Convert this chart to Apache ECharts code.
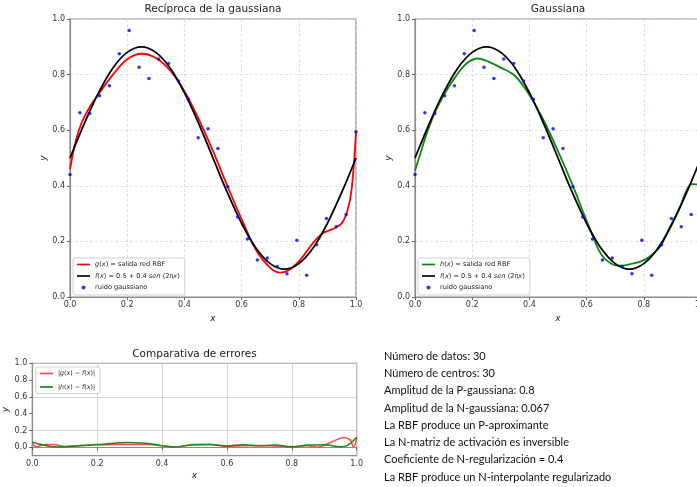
<!DOCTYPE html>
<html>
<head>
<meta charset="utf-8">
<script src="https://cdn.jsdelivr.net/npm/echarts@6/dist/echarts.min.js"></script>
<style>
html,body{margin:0;padding:0;background:#fff}
#main{width:697px;height:487px}
</style>
</head>
<body>
<div id="main"></div>
<script>
// puntos de ruido (iguales en las dos graficas de arriba)
var noiseX = [0, 0.0345, 0.069, 0.1034, 0.1379, 0.1724, 0.2069, 0.2414, 0.2759, 0.3103, 0.3448, 0.3793, 0.4138, 0.4483, 0.4828,
              0.5172, 0.5517, 0.5862, 0.6207, 0.6552, 0.6897, 0.7241, 0.7586, 0.7931, 0.8276, 0.8621, 0.8966, 0.931, 0.9655, 1.0];
var noiseY = [0.441, 0.663, 0.660, 0.724, 0.760, 0.875, 0.959, 0.826, 0.786, 0.856, 0.840, 0.777, 0.711, 0.573, 0.605,
              0.534, 0.397, 0.288, 0.209, 0.133, 0.140, 0.110, 0.084, 0.204, 0.078, 0.188, 0.282, 0.253, 0.297, 0.594];

// f(x) = 0.5 + 0.4 sen(2 pi x)
var fX = [0, 0.05, 0.1, 0.15, 0.2, 0.25, 0.3, 0.35, 0.4, 0.45, 0.5, 0.55, 0.6, 0.65, 0.7, 0.75, 0.8, 0.85, 0.9, 0.95, 1.0];
var fY = [0.5, 0.624, 0.735, 0.824, 0.880, 0.9, 0.880, 0.824, 0.735, 0.624, 0.5, 0.376, 0.265, 0.176, 0.120, 0.1, 0.120, 0.176, 0.265, 0.376, 0.5];

// g(x) salida RBF (reciproca)
var gX = [0, 0.02, 0.04, 0.07, 0.1, 0.15, 0.2, 0.25, 0.3, 0.35, 0.4, 0.45, 0.5, 0.55, 0.6, 0.65, 0.7, 0.735, 0.77, 0.81, 0.85, 0.885, 0.92, 0.95, 0.97, 0.985, 1.0];
var gY = [0.46, 0.56, 0.625, 0.685, 0.73, 0.80, 0.855, 0.875, 0.86, 0.815, 0.74, 0.64, 0.525, 0.40, 0.28, 0.17, 0.105, 0.088, 0.10, 0.14, 0.195, 0.23, 0.245, 0.265, 0.31, 0.39, 0.595];

// h(x) salida RBF (gaussiana)
var hX = [0, 0.02, 0.04, 0.07, 0.1, 0.14, 0.18, 0.22, 0.26, 0.3, 0.35, 0.4, 0.45, 0.5, 0.55, 0.6, 0.65, 0.69, 0.72, 0.76, 0.79, 0.82, 0.857, 0.892, 0.927, 0.95, 0.967, 0.985, 1.0];
var hY = [0.455, 0.52, 0.585, 0.665, 0.725, 0.79, 0.84, 0.858, 0.845, 0.825, 0.795, 0.727, 0.635, 0.525, 0.405, 0.275, 0.155, 0.118, 0.113, 0.12, 0.128, 0.145, 0.181, 0.253, 0.325, 0.385, 0.406, 0.405, 0.395];

// errores |g-f| y |h-f|
var egX = [0, 0.012, 0.04, 0.065, 0.1, 0.15, 0.2, 0.25, 0.3, 0.35, 0.4, 0.44, 0.5, 0.55, 0.6, 0.65, 0.7, 0.75, 0.8, 0.85, 0.88, 0.9, 0.93, 0.96, 0.98, 0.99, 1.0];
var egY = [0.056, 0.006, 0.034, 0.034, 0.01, 0.02, 0.03, 0.032, 0.034, 0.032, 0.018, 0.002, 0.034, 0.034, 0.01, 0.018, 0.022, 0.016, 0.01, 0.018, 0.002, 0.024, 0.076, 0.118, 0.088, 0.004, 0.112];
var ehX = [0, 0.02, 0.05, 0.08, 0.1, 0.15, 0.2, 0.25, 0.29, 0.35, 0.4, 0.44, 0.5, 0.55, 0.6, 0.65, 0.7, 0.75, 0.8, 0.85, 0.9, 0.95, 0.97, 1.0];
var ehY = [0.062, 0.04, 0.016, 0.005, 0.006, 0.02, 0.032, 0.048, 0.058, 0.048, 0.02, 0.004, 0.03, 0.032, 0.016, 0.03, 0.018, 0.026, 0.005, 0.026, 0.03, 0.008, 0.02, 0.12];

var yTicksErr = [0, 0.2, 0.4, 0.6, 0.8, 1.0];

var infoLines = [
    'Número de datos: 30',
    'Número de centros: 30',
    'Amplitud de la P-gaussiana: 0.8',
    'Amplitud de la N-gaussiana: 0.067',
    'La RBF produce un P-aproximante',
    'La N-matriz de activación es inversible',
    'Coeficiente de N-regularización = 0.4',
    'La RBF produce un N-interpolante regularizado'
];

var legendText = {
    g: '{i|g}({i|x}) = salida red RBF',
    h: '{i|h}({i|x}) = salida red RBF',
    f1: '{i|f}({i|x}) = 0.5 + 0.4 {i|sen} (2π{i|x})',
    f2: '{i|f}({i|x}) = 0.5 + 0.4 {i|sen} (2π{i|x})',
    n1: 'ruido gaussiano',
    n2: 'ruido gaussiano',
    eg: '|{i|g}({i|x}) − {i|f}({i|x})|',
    eh: '|{i|h}({i|x}) − {i|f}({i|x})|'
};

function zip(xs, ys) {
    var out = [];
    for (var i = 0; i < xs.length; i++) out.push([xs[i], ys[i]]);
    return out;
}

var FONT = 'DejaVu Sans';
var axisCol = '#8c8c8c';
var LINE_ICON = 'path://M0,0 L26,0 L26,3.4 L0,3.4 Z';

function xAxis(gi, gridCol, gridType) {
    return {
        type: 'value', gridIndex: gi, min: 0, max: 1, interval: 0.2,
        name: 'x', nameLocation: 'middle', nameGap: 15,
        nameTextStyle: {fontFamily: FONT, fontStyle: 'italic', fontSize: 9, color: '#222'},
        axisLine: {lineStyle: {color: axisCol, width: 1.2}},
        axisTick: {show: true, length: 3, lineStyle: {color: '#666'}},
        axisLabel: {fontFamily: FONT, fontSize: 8, color: '#333', margin: 4,
            formatter: function (v) { return v.toFixed(1); }},
        splitLine: {show: true, lineStyle: {color: gridCol, width: 0.8, type: gridType}}
    };
}

function yAxisTop(gi) {
    return {
        type: 'value', gridIndex: gi, min: 0, max: 1, interval: 0.2,
        name: 'y', nameLocation: 'middle', nameGap: 22,
        nameTextStyle: {fontFamily: FONT, fontStyle: 'italic', fontSize: 9, color: '#222'},
        axisLine: {show: true, lineStyle: {color: axisCol, width: 1.2}},
        axisTick: {show: true, length: 3, lineStyle: {color: '#666'}},
        axisLabel: {fontFamily: FONT, fontSize: 8, color: '#333', margin: 5,
            formatter: function (v) { return v.toFixed(1); }},
        splitLine: {show: true, lineStyle: {color: '#d6d6fa', width: 0.8, type: [3, 2]}}
    };
}

function legendBox(left, top, items, gap, pad, fs) {
    return {
        orient: 'vertical', left: left, top: top, data: items,
        itemWidth: 13, itemHeight: 4, itemGap: gap, padding: pad,
        backgroundColor: '#fff', borderColor: '#d0d0d0', borderWidth: 1, borderRadius: 2,
        selectedMode: false,
        formatter: function (n) { return legendText[n]; },
        textStyle: {fontFamily: FONT, fontSize: fs, lineHeight: 9, color: '#222',
            rich: {i: {fontFamily: FONT, fontSize: fs, fontStyle: 'italic', color: '#222'}}}
    };
}

function line(name, xi, yi, xs, ys, color, w, z) {
    return {
        name: name, type: 'line', xAxisIndex: xi, yAxisIndex: yi,
        data: zip(xs, ys), smooth: 0.35, symbol: 'none', z: z,
        lineStyle: {color: color, width: w}, itemStyle: {color: color}
    };
}

function dots(name, xi, yi) {
    return {
        name: name, type: 'scatter', xAxisIndex: xi, yAxisIndex: yi,
        data: zip(noiseX, noiseY), symbolSize: 3.5, z: 5,
        itemStyle: {color: '#0000ff'}
    };
}

var titleStyle = {fontFamily: FONT, fontSize: 10.5, fontWeight: 'normal', color: '#222'};

var option = {
    animation: false,
    title: [
        {text: 'Recíproca de la gaussiana', left: 213, top: 4, textAlign: 'center', padding: 0, textStyle: titleStyle},
        {text: 'Gaussiana', left: 558, top: 4, textAlign: 'center', padding: 0, textStyle: titleStyle},
        {text: 'Comparativa de errores', left: 194.5, top: 349, textAlign: 'center', padding: 0, textStyle: titleStyle},
        {text: infoLines.join('\n'), left: 384, top: 347.5, padding: 0,
         textStyle: {fontFamily: 'Lato', fontSize: 11, lineHeight: 17.3, fontWeight: 'normal', color: '#111'}}
    ],
    grid: [
        {left: 70, top: 19, width: 286, height: 278, show: true, borderColor: axisCol, borderWidth: 1.2, containLabel: false, outerBoundsMode: 'none'},
        {left: 415, top: 19, width: 286, height: 278, show: true, borderColor: axisCol, borderWidth: 1.2, containLabel: false, outerBoundsMode: 'none'},
        {left: 32.3, top: 363.3, width: 324.4, height: 92.4, show: true, borderColor: axisCol, borderWidth: 1.2, containLabel: false, outerBoundsMode: 'none'}
    ],
    xAxis: [
        xAxis(0, '#d6d6fa', [3, 2]),
        xAxis(1, '#d6d6fa', [3, 2]),
        Object.assign(xAxis(2, '#cccccc', 'solid'), {nameGap: 15})
    ],
    yAxis: [
        yAxisTop(0),
        yAxisTop(1),
        {
            type: 'value', gridIndex: 2, min: -0.1, max: 1, interval: 0.1,
            name: 'y', nameLocation: 'middle', nameGap: 22,
            nameTextStyle: {fontFamily: FONT, fontStyle: 'italic', fontSize: 9, color: '#222'},
            axisLine: {show: true, lineStyle: {color: axisCol, width: 1.2}},
            axisTick: {show: true, length: 3, customValues: yTicksErr, lineStyle: {color: '#666'}},
            axisLabel: {fontFamily: FONT, fontSize: 8, color: '#333', margin: 5, customValues: yTicksErr,
                formatter: function (v) { return v.toFixed(1); }},
            splitLine: {show: true, lineStyle: {color: ['rgba(0,0,0,0)', '#cccccc'], width: 0.8}}
        }
    ],
    legend: [
        legendBox(73, 258, [{name: 'g', icon: LINE_ICON}, {name: 'f1', icon: LINE_ICON}, {name: 'n1', icon: 'circle'}],
            2.5, [2, 5, 3, 4], 6.6),
        legendBox(418, 258, [{name: 'h', icon: LINE_ICON}, {name: 'f2', icon: LINE_ICON}, {name: 'n2', icon: 'circle'}],
            2.5, [2, 5, 3, 4], 6.6),
        legendBox(36, 367, [{name: 'eg', icon: LINE_ICON}, {name: 'eh', icon: LINE_ICON}],
            4.5, [2, 5, 2, 4], 6.3)
    ],
    series: [
        line('g', 0, 0, gX, gY, '#ff0000', 1.8, 2),
        line('f1', 0, 0, fX, fY, '#000000', 1.8, 3),
        dots('n1', 0, 0),
        line('h', 1, 1, hX, hY, '#0a8a0a', 1.8, 2),
        line('f2', 1, 1, fX, fY, '#000000', 1.8, 3),
        dots('n2', 1, 1),
        line('eg', 2, 2, egX, egY, '#ff4a4a', 1.5, 2),
        line('eh', 2, 2, ehX, ehY, '#138a13', 1.5, 3)
    ]
};

echarts.init(document.getElementById('main')).setOption(option);
</script>
</body>
</html>
